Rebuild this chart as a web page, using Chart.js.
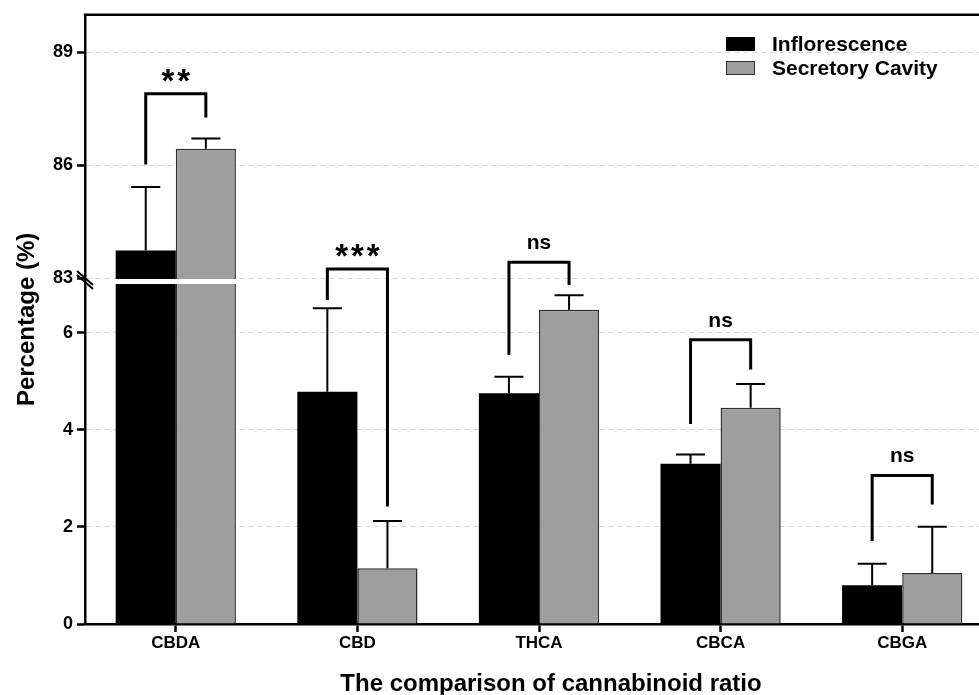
<!DOCTYPE html>
<html>
<head>
<meta charset="utf-8">
<title>The comparison of cannabinoid ratio</title>
<script src="https://cdn.jsdelivr.net/npm/chart.js@4.4.1/dist/chart.umd.min.js"></script>
<style>
  html, body { margin: 0; padding: 0; background: #fff; overflow: hidden; }
  #wrap { width: 979px; height: 695px; overflow: hidden; }
</style>
</head>
<body>
<div id="wrap"><canvas id="c" width="995" height="695"></canvas></div>
<script>
"use strict";

var categories = ["CBDA", "CBD", "THCA", "CBCA", "CBGA"];
var inflorescence = [83.73, 4.78, 4.75, 3.30, 0.80];
var inflorescenceErr = [1.69, 1.72, 0.34, 0.19, 0.44];
var secretory = [86.44, 1.15, 6.47, 4.45, 1.05];
var secretoryErr = [0.27, 0.97, 0.30, 0.49, 0.95];
var yTicks = [0, 2, 4, 6, 83, 86, 89];

// significance brackets: label, bracket top, bottom of left leg, bottom of right leg
var sigLabels = ["**", "***", "ns", "ns", "ns"];
var sigTop = [87.9, 83.24, 83.42, 5.85, 3.06];
var sigLeft = [86.02, 6.67, 5.54, 4.12, 1.71];
var sigRight = [87.27, 2.42, 6.98, 5.24, 2.46];

var FONT = "'Liberation Sans', Arial, Helvetica, sans-serif";

// y axis break: 0..7 below, 83..90 above
var BREAK_LOW = 7, BREAK_HIGH = 83, BREAK_GAP = 6, LOWER_SHARE = 341 / 605;

class BrokenScale extends Chart.LinearScale {
  buildTicks() {
    return yTicks.map(function (v) { return { value: v }; });
  }
  getPixelForValue(v) {
    if (v == null || isNaN(v)) return NaN;
    var h = this.bottom - this.top - BREAK_GAP;
    var lowH = h * LOWER_SHARE, upH = h - lowH;
    if (v <= BREAK_LOW) return this.bottom - (v - this.min) / (BREAK_LOW - this.min) * lowH;
    if (v >= BREAK_HIGH) return this.top + (this.max - v) / (this.max - BREAK_HIGH) * upH;
    return this.bottom - lowH - BREAK_GAP / 2;
  }
  getValueForPixel(p) {
    var h = this.bottom - this.top - BREAK_GAP;
    var lowH = h * LOWER_SHARE, upH = h - lowH;
    if (p >= this.bottom - lowH) return this.min + (this.bottom - p) / lowH * (BREAK_LOW - this.min);
    if (p <= this.top + upH) return this.max - (p - this.top) / upH * (this.max - BREAK_HIGH);
    return (BREAK_LOW + BREAK_HIGH) / 2;
  }
}
BrokenScale.id = "broken";
BrokenScale.defaults = Chart.LinearScale.defaults;
Chart.register(BrokenScale);

var decor = {
  id: "decor",
  afterDatasetsDraw: function (chart) {
    var ctx = chart.ctx, a = chart.chartArea, y = chart.scales.y;
    var yHi = y.getPixelForValue(BREAK_HIGH), yLo = y.getPixelForValue(BREAK_LOW);
    ctx.save();
    // white band where the axis is broken
    ctx.fillStyle = "#fff";
    ctx.fillRect(a.left + 2, yHi + 1, a.right - a.left, yLo - yHi - 1);

    // error bars, upper side only
    var vals = [inflorescence, secretory], errs = [inflorescenceErr, secretoryErr];
    ctx.strokeStyle = "#000";
    ctx.lineWidth = 2;
    for (var d = 0; d < 2; d++) {
      chart.getDatasetMeta(d).data.forEach(function (bar, i) {
        var top = y.getPixelForValue(vals[d][i]);
        var cap = y.getPixelForValue(vals[d][i] + errs[d][i]);
        ctx.beginPath();
        ctx.moveTo(bar.x, top);
        ctx.lineTo(bar.x, cap);
        ctx.moveTo(bar.x - 14.5, cap);
        ctx.lineTo(bar.x + 14.5, cap);
        ctx.stroke();
      });
    }

    // significance brackets
    var m0 = chart.getDatasetMeta(0).data, m1 = chart.getDatasetMeta(1).data;
    ctx.lineWidth = 3;
    ctx.lineJoin = "miter";
    ctx.fillStyle = "#000";
    ctx.textAlign = "center";
    ctx.textBaseline = "alphabetic";
    sigLabels.forEach(function (lab, i) {
      var lx = m0[i].x, rx = m1[i].x, ty = y.getPixelForValue(sigTop[i]);
      ctx.beginPath();
      ctx.moveTo(lx, y.getPixelForValue(sigLeft[i]));
      ctx.lineTo(lx, ty);
      ctx.lineTo(rx, ty);
      ctx.lineTo(rx, y.getPixelForValue(sigRight[i]));
      ctx.stroke();
      var cx = (lx + rx) / 2;
      if (lab.indexOf("*") >= 0) {
        ctx.font = "bold 33px " + FONT;
        ctx.letterSpacing = "3px";
        ctx.fillText(lab, cx + 1.5, ty - 2);
        ctx.letterSpacing = "0px";
      } else {
        ctx.font = "bold 21px " + FONT;
        ctx.fillText(lab, cx, ty - 13);
      }
    });
    ctx.restore();
  },
  afterDraw: function (chart) {
    var ctx = chart.ctx, a = chart.chartArea, y = chart.scales.y;
    var yHi = y.getPixelForValue(BREAK_HIGH);
    ctx.save();
    ctx.strokeStyle = "#000";

    // top frame line
    ctx.lineWidth = 2.5;
    ctx.beginPath();
    ctx.moveTo(a.left - 1.25, a.top);
    ctx.lineTo(a.right + 10, a.top);
    ctx.stroke();

    // break marks on the y axis
    ctx.lineWidth = 2;
    ctx.beginPath();
    ctx.moveTo(a.left - 8, yHi - 7);
    ctx.lineTo(a.left + 8, yHi + 7);
    ctx.moveTo(a.left - 8, yHi - 3);
    ctx.lineTo(a.left + 8, yHi + 11);
    ctx.stroke();

    // legend, top right
    ctx.lineWidth = 1;
    ctx.font = "bold 21px " + FONT;
    ctx.textAlign = "left";
    ctx.textBaseline = "middle";
    chart.data.datasets.forEach(function (ds, i) {
      var by = 37 + i * 24;
      ctx.fillStyle = ds.backgroundColor;
      ctx.fillRect(726, by, 29, 14);
      ctx.strokeStyle = i ? "#333" : "#000";
      ctx.strokeRect(726.5, by + 0.5, 28, 13);
      ctx.fillStyle = "#000";
      ctx.fillText(ds.label, 772, by + 8);
    });

    // axis titles
    ctx.font = "bold 24px " + FONT;
    ctx.textAlign = "center";
    ctx.fillText("The comparison of cannabinoid ratio", 551, 684);
    ctx.translate(27, (a.top + a.bottom) / 2);
    ctx.rotate(-Math.PI / 2);
    ctx.fillText("Percentage (%)", 0, 0);
    ctx.restore();
  }
};

new Chart(document.getElementById("c"), {
  type: "bar",
  data: {
    labels: categories,
    datasets: [
      { label: "Inflorescence", data: inflorescence, backgroundColor: "#000", borderWidth: 0 },
      { label: "Secretory Cavity", data: secretory, backgroundColor: "#9e9e9e", borderColor: "#2b2b2b", borderWidth: 1.5 }
    ]
  },
  options: {
    responsive: false,
    animation: false,
    devicePixelRatio: 1,
    layout: { padding: { top: 12, right: 2, left: 0, bottom: 0 } },
    plugins: { legend: { display: false }, tooltip: { enabled: false } },
    datasets: { bar: { categoryPercentage: 0.662, barPercentage: 1 } },
    scales: {
      x: {
        grid: { offset: false, drawOnChartArea: false, tickLength: 8, tickWidth: 2.5, tickColor: "#000" },
        border: { color: "#000", width: 2.5 },
        ticks: { color: "#000", font: { family: FONT, size: 17, weight: "bold" }, padding: 1, maxRotation: 0 },
        afterFit: function (s) { s.height = 71; }
      },
      y: {
        type: "broken",
        min: 0,
        max: 90,
        grid: { color: "#d6d6d6", lineWidth: 1, tickLength: 8, tickWidth: 2.5, tickColor: "#000" },
        border: { color: "#000", width: 2.5, dash: [5, 4] },
        ticks: {
          color: "#000", autoSkip: false, padding: 4,
          font: { family: FONT, size: 18, weight: "bold" },
          callback: function (v) { return v; }
        },
        afterFit: function (s) { s.width = 85; }
      }
    }
  },
  plugins: [decor]
});
</script>
</body>
</html>
